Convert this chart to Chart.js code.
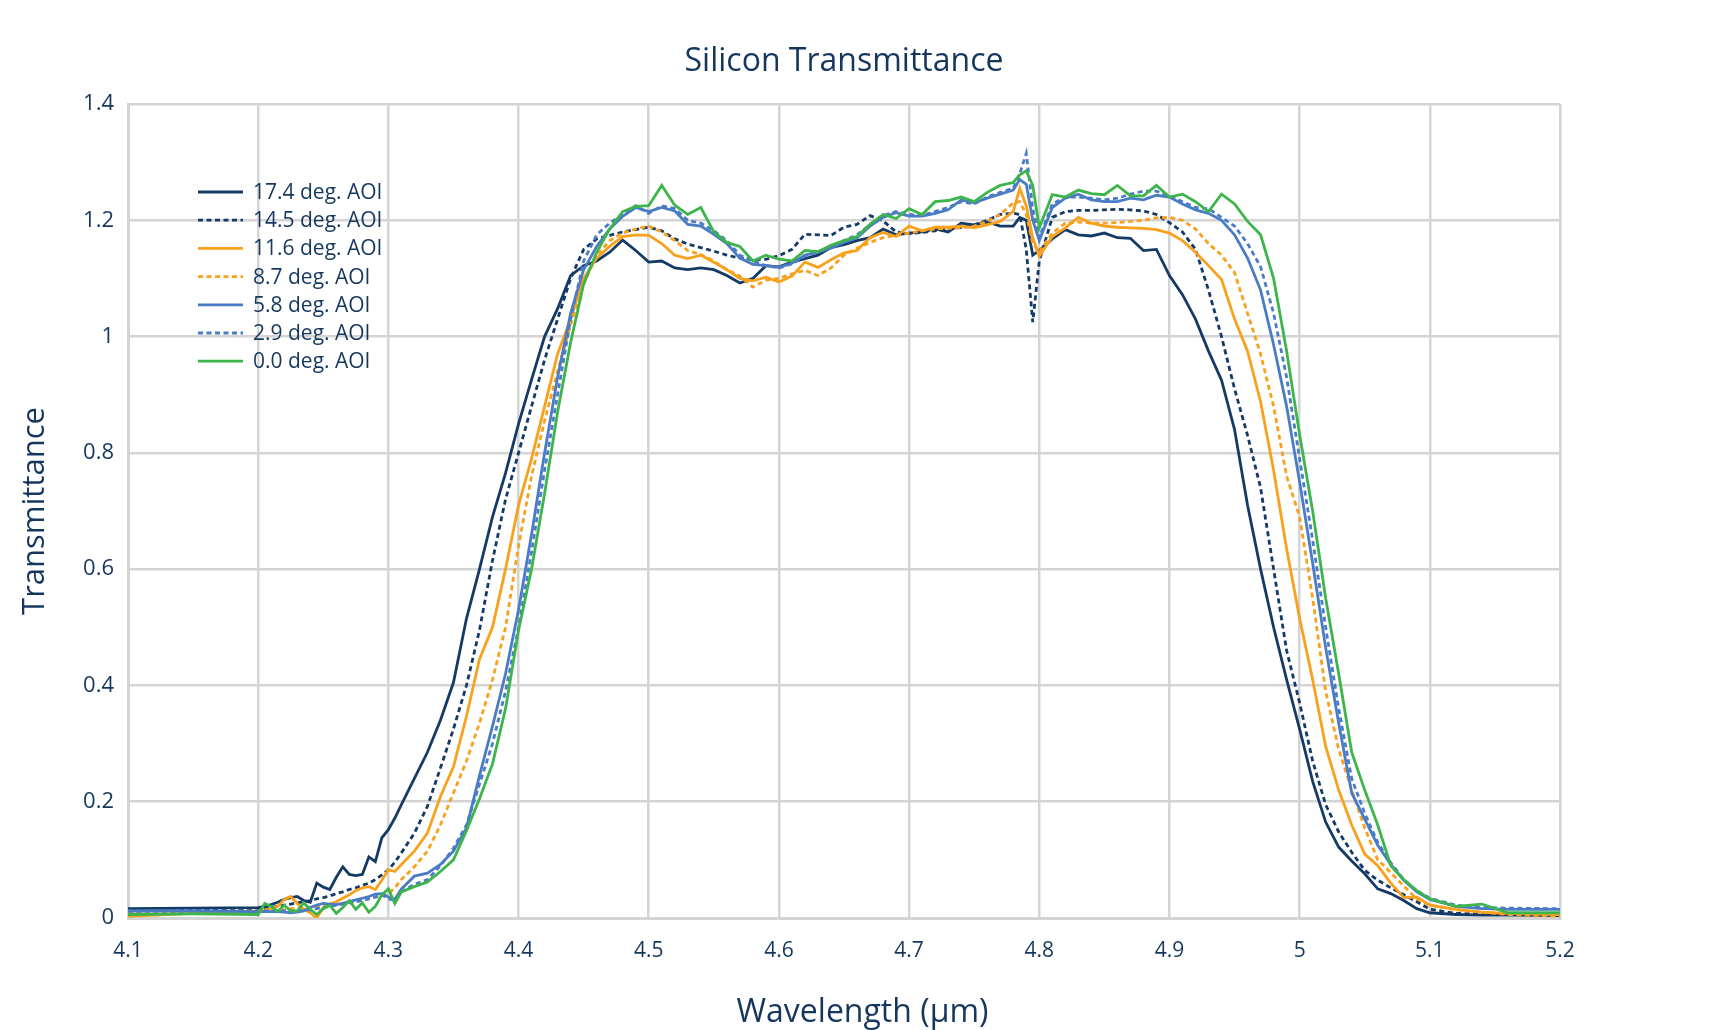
<!DOCTYPE html>
<html>
<head>
<meta charset="utf-8">
<title>Silicon Transmittance</title>
<script src="https://cdn.jsdelivr.net/npm/chart.js@4.4.1/dist/chart.umd.min.js"></script>
<style>
  html, body { margin: 0; padding: 0; background: #fff; }
  #wrap { width: 1725px; height: 1030px; }
</style>
</head>
<body>
<div id="wrap"><canvas id="graficoSilicio" width="1725" height="1030"></canvas></div>
<script>
// ======== DATA =========
const wavelength = [4.10, 4.15,
  4.20, 4.205, 4.21, 4.215, 4.22, 4.225, 4.23, 4.235, 4.24, 4.245, 4.25, 4.255, 4.26, 4.265, 4.27, 4.275, 4.28, 4.285, 4.29, 4.295, 4.30, 4.305, 4.31,
  4.32, 4.33, 4.34, 4.35, 4.36, 4.37, 4.38, 4.39, 4.40, 4.41, 4.42, 4.43, 4.44, 4.45, 4.46, 4.47, 4.48, 4.49,
  4.50, 4.51, 4.52, 4.53, 4.54, 4.55, 4.56, 4.57, 4.58, 4.59, 4.60, 4.61, 4.62, 4.63, 4.64, 4.65, 4.66, 4.67, 4.68, 4.69, 4.70, 4.71, 4.72, 4.73, 4.74, 4.75, 4.76, 4.77, 4.78,
  4.785, 4.79, 4.795, 4.80,
  4.81, 4.82, 4.83, 4.84, 4.85, 4.86, 4.87, 4.88, 4.89, 4.90, 4.91, 4.92, 4.93, 4.94, 4.95, 4.96, 4.97, 4.98, 4.99, 5.00, 5.01, 5.02, 5.03, 5.04, 5.05, 5.06, 5.07, 5.08, 5.09, 5.10,
  5.12, 5.14, 5.16, 5.20];

const aoi174 = [0.016, 0.017,
  0.018, 0.02, 0.023, 0.027, 0.032, 0.035, 0.037, 0.03, 0.027, 0.06, 0.053, 0.049, 0.07, 0.088, 0.075, 0.073, 0.075, 0.105, 0.097, 0.138, 0.152, 0.172, 0.195,
  0.24, 0.285, 0.34, 0.405, 0.515, 0.6, 0.69, 0.765, 0.85, 0.926, 1.0, 1.048, 1.105, 1.122, 1.13, 1.145, 1.166, 1.148,
  1.128, 1.13, 1.118, 1.115, 1.118, 1.115, 1.105, 1.092, 1.1, 1.122, 1.12, 1.128, 1.134, 1.14, 1.153, 1.158, 1.165, 1.17, 1.185, 1.175, 1.178, 1.18, 1.185, 1.18, 1.195, 1.192, 1.197, 1.19, 1.19,
  1.205, 1.2, 1.14, 1.148,
  1.168, 1.184, 1.175, 1.173, 1.178, 1.17, 1.169, 1.148, 1.15, 1.105, 1.072, 1.03, 0.975, 0.925, 0.84, 0.71, 0.6, 0.5, 0.41, 0.325, 0.235, 0.165, 0.122, 0.098, 0.076, 0.05, 0.042, 0.03, 0.016, 0.009,
  0.006, 0.005, 0.005, 0.004];

const aoi145 = [0.012, 0.014,
  0.016, 0.017, 0.018, 0.02, 0.022, 0.024, 0.026, 0.028, 0.03, 0.033, 0.035, 0.038, 0.042, 0.045, 0.049, 0.052, 0.056, 0.06, 0.066, 0.074, 0.083, 0.096, 0.112,
  0.146, 0.192, 0.258, 0.325, 0.4, 0.495, 0.615, 0.72, 0.8, 0.88, 0.96, 1.03, 1.1, 1.15, 1.168, 1.174, 1.18, 1.184,
  1.188, 1.182, 1.168, 1.159, 1.153, 1.147, 1.14, 1.135, 1.132, 1.133, 1.139, 1.15, 1.176, 1.175, 1.174, 1.188, 1.193, 1.208, 1.199, 1.18, 1.177, 1.179, 1.182, 1.185, 1.188, 1.192, 1.2, 1.21, 1.212,
  1.21, 1.15, 1.025, 1.13,
  1.205, 1.215, 1.217, 1.217, 1.218, 1.219, 1.218, 1.216, 1.21, 1.196, 1.18, 1.15, 1.08, 1.0, 0.91, 0.83, 0.74, 0.6, 0.46, 0.37, 0.27, 0.195, 0.148, 0.113, 0.082, 0.065, 0.052, 0.04, 0.028, 0.015,
  0.008, 0.007, 0.007, 0.006];

const aoi116 = [0.003, 0.008,
  0.012, 0.014, 0.016, 0.02, 0.032, 0.037, 0.025, 0.015, 0.009, 0.0, 0.018, 0.024, 0.028, 0.034, 0.04, 0.047, 0.052, 0.054, 0.049, 0.065, 0.083, 0.08, 0.092,
  0.115, 0.146, 0.209, 0.26, 0.347, 0.445, 0.5, 0.6, 0.71, 0.79, 0.88, 0.97, 1.03, 1.1, 1.135, 1.155, 1.172, 1.175,
  1.174, 1.16, 1.14, 1.134, 1.14, 1.128, 1.115, 1.1, 1.096, 1.102, 1.094, 1.104, 1.128, 1.119, 1.132, 1.144, 1.148, 1.17, 1.179, 1.172, 1.19, 1.182, 1.188, 1.188, 1.19, 1.187, 1.192, 1.198, 1.215,
  1.255, 1.225, 1.17, 1.138,
  1.172, 1.187, 1.205, 1.195, 1.19, 1.188, 1.187, 1.186, 1.184, 1.178, 1.165, 1.145, 1.122, 1.098, 1.03, 0.975, 0.888, 0.77, 0.635, 0.515, 0.41, 0.295, 0.22, 0.16, 0.11, 0.09, 0.06, 0.035, 0.036, 0.022,
  0.015, 0.01, 0.008, 0.006];

const aoi87 = [0.01, 0.011,
  0.012, 0.012, 0.013, 0.013, 0.014, 0.016, 0.017, 0.017, 0.018, 0.019, 0.02, 0.022, 0.023, 0.025, 0.027, 0.029, 0.031, 0.034, 0.036, 0.038, 0.042, 0.052, 0.066,
  0.088, 0.115, 0.16, 0.215, 0.27, 0.335, 0.41, 0.5, 0.64, 0.76, 0.855, 0.94, 1.02, 1.09, 1.14, 1.165, 1.178, 1.185,
  1.19, 1.18, 1.165, 1.148, 1.141, 1.13, 1.115, 1.104, 1.085, 1.097, 1.1, 1.108, 1.114, 1.105, 1.118, 1.14, 1.152, 1.162, 1.17, 1.174, 1.178, 1.182, 1.185, 1.186, 1.187, 1.19, 1.198, 1.21, 1.23,
  1.232, 1.21, 1.16, 1.145,
  1.178, 1.195, 1.197, 1.195, 1.195, 1.196, 1.198, 1.2, 1.204, 1.205, 1.2, 1.185, 1.16, 1.14, 1.11, 1.04, 0.97, 0.88, 0.76, 0.69, 0.55, 0.39, 0.29, 0.22, 0.155, 0.1, 0.078, 0.055, 0.033, 0.022,
  0.014, 0.01, 0.006, 0.003];

const aoi58 = [0.012, 0.012,
  0.011, 0.011, 0.011, 0.011, 0.01, 0.009, 0.01, 0.012, 0.018, 0.022, 0.025, 0.024, 0.023, 0.025, 0.028, 0.031, 0.034, 0.037, 0.041, 0.042, 0.036, 0.032, 0.05,
  0.072, 0.077, 0.092, 0.115, 0.155, 0.245, 0.33, 0.42, 0.53, 0.66, 0.8, 0.93, 1.04, 1.115, 1.155, 1.185, 1.207, 1.222,
  1.215, 1.222, 1.216, 1.193, 1.19, 1.176, 1.16, 1.135, 1.124, 1.122, 1.119, 1.126, 1.14, 1.145, 1.152, 1.162, 1.17, 1.19, 1.205, 1.213, 1.207, 1.207, 1.212, 1.218, 1.235, 1.23, 1.238, 1.245, 1.252,
  1.27, 1.262, 1.2, 1.165,
  1.222, 1.238, 1.245, 1.235, 1.232, 1.232, 1.238, 1.235, 1.243, 1.24, 1.228, 1.218, 1.212, 1.2, 1.175, 1.135, 1.08, 0.986, 0.88, 0.75, 0.61, 0.465, 0.335, 0.215, 0.17, 0.125, 0.092, 0.065, 0.045, 0.032,
  0.02, 0.016, 0.015, 0.015];

const aoi29 = [0.012, 0.012,
  0.012, 0.012, 0.012, 0.012, 0.012, 0.012, 0.012, 0.013, 0.014, 0.016, 0.018, 0.02, 0.022, 0.024, 0.026, 0.028, 0.03, 0.033, 0.036, 0.04, 0.033, 0.03, 0.045,
  0.058, 0.066, 0.09, 0.12, 0.16, 0.23, 0.3, 0.39, 0.5, 0.63, 0.77, 0.9, 1.03, 1.13, 1.175, 1.195, 1.21, 1.225,
  1.212, 1.225, 1.22, 1.2, 1.195, 1.182, 1.165, 1.14, 1.13, 1.122, 1.118, 1.125, 1.138, 1.146, 1.155, 1.165, 1.175, 1.192, 1.208, 1.215, 1.21, 1.208, 1.215, 1.222, 1.232, 1.228, 1.24, 1.248, 1.255,
  1.28, 1.315, 1.22, 1.17,
  1.228, 1.24, 1.24, 1.238, 1.235, 1.238, 1.245, 1.25, 1.25, 1.242, 1.232, 1.222, 1.22, 1.205, 1.19, 1.16, 1.12, 1.04, 0.93, 0.79, 0.65, 0.5, 0.36, 0.24, 0.18, 0.13, 0.095, 0.066, 0.047, 0.034,
  0.022, 0.018, 0.017, 0.016];

const aoi00 = [0.006, 0.007,
  0.006, 0.025, 0.02, 0.011, 0.022, 0.012, 0.012, 0.026, 0.015, 0.006, 0.016, 0.022, 0.008, 0.018, 0.03, 0.015, 0.026, 0.01, 0.02, 0.04, 0.05, 0.025, 0.045,
  0.054, 0.062, 0.08, 0.1, 0.15, 0.205, 0.265, 0.36, 0.495, 0.6, 0.73, 0.87, 0.99, 1.09, 1.145, 1.185, 1.215, 1.224,
  1.225, 1.26, 1.226, 1.21, 1.222, 1.18, 1.162, 1.155, 1.13, 1.14, 1.133, 1.13, 1.148, 1.146, 1.157, 1.165, 1.172, 1.193, 1.21, 1.203, 1.22, 1.21, 1.232, 1.234, 1.24, 1.232, 1.248, 1.26, 1.265,
  1.278, 1.285, 1.26, 1.187,
  1.244, 1.24, 1.252, 1.246, 1.244, 1.26, 1.242, 1.242, 1.26, 1.24, 1.245, 1.232, 1.215, 1.245, 1.228, 1.198, 1.175, 1.1, 0.975, 0.831, 0.7, 0.55, 0.42, 0.285, 0.22, 0.16, 0.09, 0.066, 0.047, 0.033,
  0.02, 0.024, 0.009, 0.009];

const seriesLabels = ['17.4 deg. AOI', '14.5 deg. AOI', '11.6 deg. AOI', '8.7 deg. AOI', '5.8 deg. AOI', '2.9 deg. AOI', '0.0 deg. AOI'];
const seriesValues = [aoi174, aoi145, aoi116, aoi87, aoi58, aoi29, aoi00];
const xTicks = { min: 4.1, max: 5.2, step: 0.1 };
const yTicks = { min: 0, max: 1.4, step: 0.2 };

seriesValues.forEach((v, i) => {
  if (v.length !== wavelength.length) throw new Error(seriesLabels[i] + ' has ' + v.length + ' values, expected ' + wavelength.length);
});

// ======== STYLE =========
const navy = '#143a66';
const orange = '#f8a11c';
const blue = '#4a7cc6';
const green = '#3db54b';
const textColor = '#16375d';
const gridColor = '#d4d4d4';
const font = '"Open Sans", "Noto Sans", sans-serif';

const seriesColors = [navy, navy, orange, orange, blue, blue, green];
const dotted = [5, 3.5];
const seriesDash = [[], dotted, [], dotted, [], dotted, []];

// ======== TITLES + LEGEND =========
const captions = {
  id: 'captions',
  afterDraw(chart) {
    const { ctx, chartArea } = chart;
    ctx.save();
    ctx.fillStyle = textColor;
    ctx.textAlign = 'center';
    ctx.textBaseline = 'middle';
    ctx.font = '32px ' + font;
    ctx.fillText('Silicon Transmittance', (chartArea.left + chartArea.right) / 2, 62);
    ctx.font = '32px ' + font;
    ctx.fillText('Wavelength (µm)', chart.width / 2, 1013);

    ctx.textAlign = 'left';
    ctx.font = '21px ' + font;
    chart.data.datasets.forEach((ds, i) => {
      const y = 192 + i * 28.2;
      ctx.strokeStyle = ds.borderColor;
      ctx.lineWidth = ds.borderWidth;
      ctx.setLineDash(ds.borderDash);
      ctx.beginPath();
      ctx.moveTo(198, y);
      ctx.lineTo(243, y);
      ctx.stroke();
      ctx.fillText(ds.label, 253, y + 1);
    });
    ctx.restore();
  }
};

// ======== CHART =========
const ctxSilicio = document.getElementById('graficoSilicio');
new Chart(ctxSilicio, {
  type: 'line',
  data: {
    datasets: seriesLabels.map((label, i) => ({
      label: label,
      data: wavelength.map((w, j) => ({ x: w, y: seriesValues[i][j] })),
      borderColor: seriesColors[i],
      backgroundColor: seriesColors[i],
      borderWidth: 2.8,
      borderDash: seriesDash[i],
      pointRadius: 0,
      tension: 0,
      fill: false,
      order: seriesLabels.length - i
    }))
  },
  options: {
    responsive: false,
    animation: false,
    layout: { padding: { top: 104, right: 165, left: 0, bottom: 0 } },
    plugins: {
      legend: { display: false },
      title: { display: false },
      tooltip: { enabled: false }
    },
    scales: {
      x: {
        type: 'linear',
        min: xTicks.min,
        max: xTicks.max,
        ticks: {
          stepSize: xTicks.step,
          padding: 20,
          maxRotation: 0,
          autoSkip: false,
          color: textColor,
          font: { family: font, size: 21 },
          callback: v => +v.toFixed(1)
        },
        grid: { color: gridColor, lineWidth: 2.5, drawTicks: false },
        border: { color: gridColor, width: 3 },
        afterFit: s => { s.height = 112; }
      },
      y: {
        min: yTicks.min,
        max: yTicks.max,
        ticks: {
          stepSize: yTicks.step,
          padding: 14,
          color: textColor,
          font: { family: font, size: 22 },
          callback: v => +v.toFixed(1)
        },
        grid: { color: gridColor, lineWidth: 2.5, drawTicks: false },
        border: { color: gridColor, width: 3 },
        title: {
          display: true,
          text: 'Transmittance',
          color: textColor,
          font: { family: font, size: 31 },
          padding: { top: 17, bottom: 0 }
        },
        afterFit: s => { s.width = 128; }
      }
    }
  },
  plugins: [captions]
});
</script>
</body>
</html>
